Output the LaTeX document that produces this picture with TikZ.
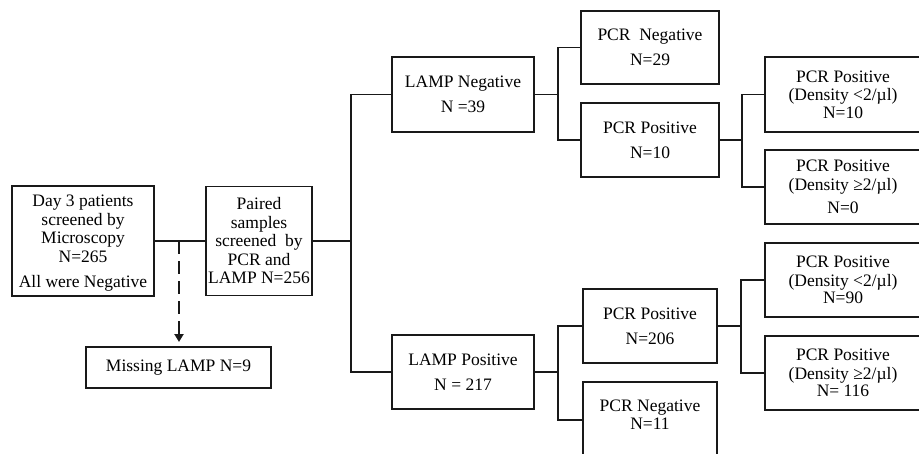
\documentclass[tikz,border=0pt]{standalone}
\usepackage{fontspec}
\setmainfont{Liberation Serif}
\usetikzlibrary{arrows.meta}
\begin{document}
\begin{tikzpicture}[x=1pt,y=-1pt,
  box/.style={draw=black!90, line width=1.3pt, rectangle, inner sep=0pt, outer sep=0pt,
    align=center, font=\fontsize{17.5}{18.5}\selectfont},
  txt/.style={inner sep=0pt, align=center, font=\fontsize{17.5}{18.5}\selectfont},
  conn/.style={draw=black!90, line width=1.3pt},
  dashconn/.style={draw=black!90, line width=2.8pt, dash pattern=on 13pt off 7pt,
    -{Triangle[length=8pt,width=9pt]}}]
\useasboundingbox (0,0) rectangle (919,453);

% left part
\node[box, minimum width=142, minimum height=110] (A) at (83,241)
  {\rule{0pt}{16pt}Day 3 patients\\screened by\\Microscopy\\N=265\\[7pt]All were Negative};
\node[box, minimum width=106, minimum height=109] (B) at (259,241)
  {Paired\\samples\\screened\ \ by\\PCR and\\LAMP N=256};
\node[box, minimum width=185, minimum height=41] (miss) at (178.5,367.5)
  {Missing LAMP N=9};

% LAMP level
\node[box, minimum width=142, minimum height=75] (LN) at (463,94.5)
  {LAMP Negative\\[6.5pt]N =39};
\node[box, minimum width=142, minimum height=74] (LP) at (463,372)
  {LAMP Positive\\[6.5pt]N = 217};

% PCR level (upper)
\node[box, minimum width=138, minimum height=73] (PN1) at (650,47.5)
  {PCR\ \ Negative\\[6.5pt]N=29};
\node[box, minimum width=138, minimum height=74] (PP1) at (650,140)
  {PCR Positive\\[6.5pt]N=10};

% PCR level (lower)
\node[box, minimum width=134, minimum height=76, anchor=north] (PN2) at (650,382) {};
\node[box, minimum width=134, minimum height=74] (PP2) at (650,326)
  {PCR Positive\\[6.5pt]N=206};
\node[txt] (PN2t) at (650,414.5) {PCR Negative\\N=11};

% density level
\node[box, minimum width=156, minimum height=75, anchor=west] (R1) at (765,94.5)
  {PCR Positive\\(Density <2/µl)\\[-1pt]N=10};
\node[box, minimum width=156, minimum height=74, anchor=west] (R2) at (765,187)
  {PCR Positive\\(Density ≥2/µl)\\[5pt]N=0};
\node[box, minimum width=156, minimum height=74, anchor=west] (R3) at (765,280)
  {PCR Positive\\(Density <2/µl)\\[-1pt]N=90};
\node[box, minimum width=156, minimum height=74, anchor=west] (R4) at (765,373)
  {PCR Positive\\(Density ≥2/µl)\\[-1pt]N= 116};

% junction coordinates
\coordinate (j0) at (179,241);
\coordinate (t) at (351,241);
\coordinate (tN) at (351,94.5);
\coordinate (tP) at (351,372);
\coordinate (j1) at (558,94.5);
\coordinate (j2) at (742,140);
\coordinate (j3) at (558,372);
\coordinate (j4) at (741,326);

% connectors
\draw[conn] (A.east) -- (B.west);
\draw[dashconn] (j0) -- ([yshift=5pt]j0 |- miss.north);
\draw[conn] (B.east) -- (t);
\draw[conn] (LN.west) -- (tN) -- (tP) -- (LP.west);

\draw[conn] (LN.east) -- (j1);
\draw[conn] (PN1.west) -| (j1) |- (PP1.west);
\draw[conn] (PP1.east) -- (j2);
\draw[conn] (R1.west) -| (j2) |- (R2.west);

\draw[conn] (LP.east) -- (j3);
\draw[conn] (PP2.west) -| (j3) |- (PN2.west);
\draw[conn] (PP2.east) -- (j4);
\draw[conn] (R3.west) -| (j4) |- (R4.west);
\end{tikzpicture}
\end{document}
